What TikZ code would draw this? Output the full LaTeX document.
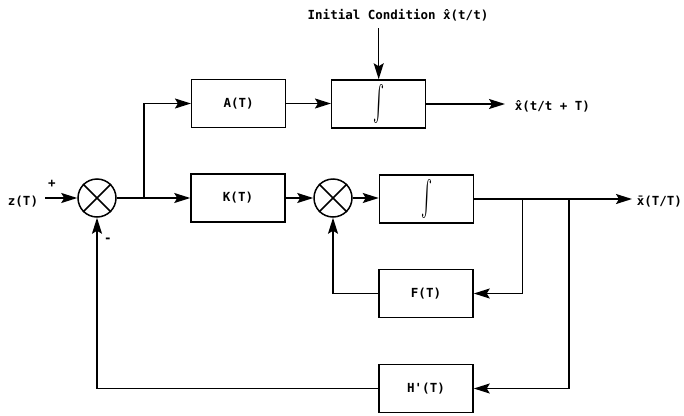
\documentclass[tikz,border=0pt]{standalone}
\usepackage{fontspec}
\usepackage{graphicx}
\setmonofont{DejaVu Sans Mono}
\usetikzlibrary{arrows.meta,positioning}
\newcommand{\intsym}{\resizebox{11pt}{30pt}{$\int$}}
\begin{document}
\begin{tikzpicture}[x=1pt,y=-1pt,
  font=\ttfamily\bfseries\fontsize{12.5}{15}\selectfont,
  line width=1.5pt,
  blk/.style={draw,rectangle,minimum width=94pt,minimum height=48pt,inner sep=0pt},
  sumj/.style={draw,circle,minimum size=38pt,inner sep=0pt},
  arr/.style={-{Stealth[length=16pt,width=10pt,inset=3pt]}},
  txt/.style={inner sep=0pt}]
\useasboundingbox (0,0) rectangle (684,415);

% blocks
\node[blk] (A)  at (238.7,103.5) {A(T)};
\node[blk] (I1) at (378.7,104)   {\intsym};
\node[blk] (K)  at (238,198)     {K(T)};
\node[blk] (I2) at (426.5,199)   {\intsym};
\node[blk] (F)  at (426,293.5)   {F(T)};
\node[blk] (H)  at (426,388.5)   {H'(T)};

% summing junctions
\node[sumj] (S1) at (97,198) {};
\node[sumj] (S2) at (333,198) {};
\foreach \s in {S1,S2}{
  \draw (\s.north east) -- (\s.south west);
  \draw (\s.north west) -- (\s.south east);
}

% texts
\node[txt] (ic)  at (398,15)  {Initial Condition \^{x}(t/t)};
\node[txt] (z)   at (23,202)  {z(T)};
\node[txt] (pl)  at (52,184)  {+};
\node[txt] (mi)  at (108,240) {-};
\node[txt,anchor=west] (y1) at (514,106) {\^{x}(t/t + T)};
\node[txt,anchor=west] (y2) at (636,202) {\={x}(T/T)};

% branch and turning points
\coordinate (b0) at (144,198);
\coordinate (b1) at (522.7,199);
\coordinate (b2) at (569,199);
\coordinate (icT) at (I1.north |- 0,28);
\coordinate (zr) at (45,198);
\coordinate (o1) at (505,104);
\coordinate (o2) at (632,199);

% forward paths
\draw[arr] (icT) -- (I1.north);
\draw[arr] (zr) -- (S1.west);
\draw[arr] (S1.east) -- (K.west);
\draw[arr] (b0) |- (A.west);
\draw[arr] (A.east) -- (I1.west |- A.east);
\draw[arr] (I1.east) -- (o1);
\draw[arr] (K.east) -- (S2.west);
\draw[arr] (S2.east) -- (I2.west |- S2.east);
\draw[arr] (I2.east) -- (o2);

% feedback paths
\draw[arr] (b1) |- (F.east);
\draw[arr] (F.west) -| (S2.south);
\draw[arr] (b2) |- (H.east);
\draw[arr] (H.west) -| (S1.south);
\end{tikzpicture}
\end{document}
